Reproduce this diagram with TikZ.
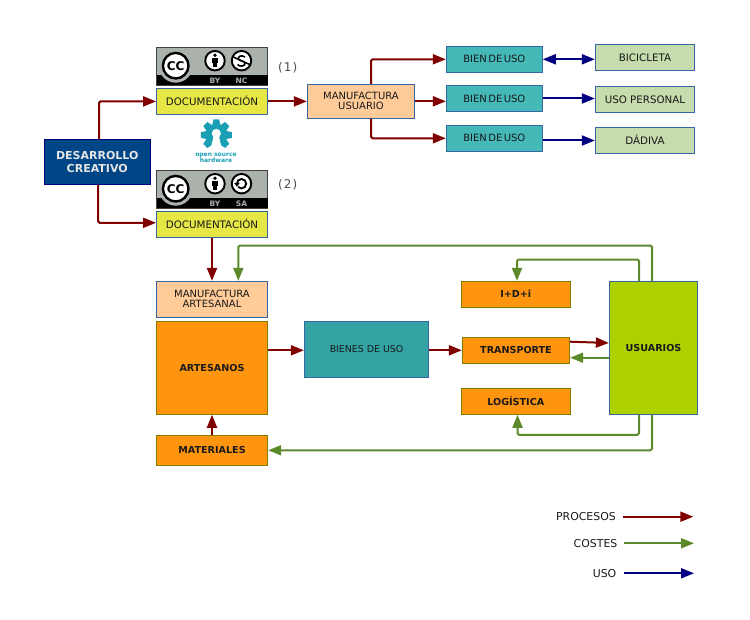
\documentclass[tikz,border=0pt]{standalone}
\usepackage{fontspec}
\setmainfont{DejaVu Sans}
\newfontfamily\bienfont[WordSpace=0.45]{DejaVu Sans}
\usetikzlibrary{arrows.meta}
\definecolor{rojo}{HTML}{800000}
\definecolor{verde}{HTML}{5C8A2A}
\definecolor{azul}{HTML}{000080}
\definecolor{borde}{HTML}{3465A4}
\definecolor{oliva}{HTML}{808000}
\definecolor{gris}{HTML}{AAB2AB}
\definecolor{oshw}{HTML}{1A9FB5}
\definecolor{naranja}{HTML}{FF950E}
\definecolor{amarillo}{HTML}{E6E645}
\definecolor{turquesa}{HTML}{45B8B8}
\definecolor{pasto}{HTML}{C6DCAC}
\definecolor{salmon}{HTML}{FFCC99}
\definecolor{marino}{HTML}{004586}
\definecolor{petroleo}{HTML}{33A3A3}
\definecolor{lima}{HTML}{AECF00}
\tikzset{
 caja/.style={draw=borde,line width=.9pt,inner sep=0pt,align=center,text=black!90,
  font=\fontsize{10}{10}\selectfont},
 negrita/.style={caja,draw=oliva,fill=naranja,font=\fontsize{9.6}{10}\selectfont\bfseries},
 doccaja/.style={caja,fill=amarillo,minimum width=111pt,minimum height=25.6pt,text height=7.5pt,text depth=0pt,font=\fontsize{10.3}{10}\selectfont},
 bien/.style={caja,fill=turquesa,minimum width=96pt,minimum height=26pt,
  font=\bienfont\fontsize{10}{10}\selectfont},
 destino/.style={caja,fill=pasto,minimum width=99.4pt,minimum height=26pt,text height=7.5pt,text depth=0pt,font=\fontsize{10.3}{10}\selectfont},
 manuf/.style={caja,fill=salmon},
 leyenda/.style={inner sep=0pt,anchor=east,text=black!90,font=\fontsize{10.9}{10}\selectfont},
 proceso/.style={rojo,line width=2pt,-{Triangle[length=13pt,width=10pt]},rounded corners=1.5pt},
 coste/.style={verde,line width=2pt,-{Triangle[length=13pt,width=10pt]},rounded corners=1.5pt},
 uso/.style={azul,line width=2pt,-{Triangle[length=13pt,width=10pt]}},
 sello/.style={draw=black,line width=1.9pt,fill=white},
 marca/.style={inner sep=0pt,text=gris,font=\fontsize{7.5}{7.5}\selectfont\bfseries},
 ccbase/.pic={
  \fill[gris,draw=black!75,line width=.9pt] (0,0) rectangle (111,38);
  \fill[black] (0,28) rectangle (111,38);
  \fill[gris] (19.2,18.2) circle (17);
  \node[sello,line width=2.4pt,circle,minimum size=25.6pt,inner sep=0pt,font=\fontsize{12}{12}\selectfont\bfseries] at (19.2,18.2) {CC};
  \node[sello,circle,minimum size=19.5pt] at (58.5,13.2) {};
  \fill[black] (58.5,7.7) circle (1.9);
  \fill[black] (55.4,10.5) rectangle (61.6,16);
  \fill[black] (56.8,15.5) rectangle (60.2,20);
  \node[marca] at (58.5,33) {BY};
 },
 ccnc/.pic={
  \node[sello,circle,minimum size=19.5pt] at (85,13.2) {};
  \draw[black,line width=1.6pt] (88.5,9.5) .. controls (85,7) and (81,9) .. (82,11.5) .. controls (83,14) and (88.5,13) .. (88.5,16) .. controls (88.5,19) and (83,19.5) .. (81,17);
  \draw[black,line width=1.5pt] (76.8,9.5) -- (93.2,17);
  \node[marca] at (85,33) {NC};
 },
 ccsa/.pic={
  \node[sello,circle,minimum size=19.5pt] at (85,13.2) {};
  \draw[black,line width=1.9pt] (80.4,13.2) .. controls (80.4,10.6) and (82.4,8.5) .. (85,8.5) .. controls (87.6,8.5) and (89.7,10.6) .. (89.7,13.2) .. controls (89.7,15.8) and (87.6,17.9) .. (85,17.9) .. controls (83.6,17.9) and (82.4,17.4) .. (81.6,16.5);
  \fill[black] (77.7,12.5) -- (83.2,12.5) -- (80.4,16.3) -- cycle;
  \node[marca] at (85,33) {SA};
 }
}
\begin{document}
\begin{tikzpicture}[x=1pt,y=-1pt]
\useasboundingbox (0,0) rectangle (750,620);
\node[caja,draw=azul,fill=marino,text=black!10,minimum width=106pt,minimum height=45pt,
 font=\fontsize{11}{13}\selectfont\bfseries] (desarrollo) at (97.2,162) {DESARROLLO\\CREATIVO};
\pic at (156.5,47.5) {ccbase};
\pic at (156.5,47.5) {ccnc};
\pic at (156.5,170.5) {ccbase};
\pic at (156.5,170.5) {ccsa};
\node[inner sep=0pt,text=black!70,font=\fontsize{12}{12}\selectfont] (uno) at (287.7,68) {(\kern1pt1\kern1pt)};
\node[inner sep=0pt,text=black!70,font=\fontsize{12}{12}\selectfont] (dos) at (287.7,184.3) {(\kern1pt2\kern1pt)};
\node[doccaja] (doc1) at (212,101.4) {DOCUMENTACIÓN};
\node[doccaja] (doc2) at (212,224.3) {DOCUMENTACIÓN};
\foreach \ang in {90,45,0,-45,135,180,225}
 \fill[oshw,rotate around={\ang:(216.3,135)}] (216.3+8,135-4.4) -- (216.3+15.5,135-2.9) -- (216.3+15.5,135+2.9) -- (216.3+8,135+4.4) -- cycle;
\fill[oshw] (216.3,135) circle (11);
\fill[white] (216.3,133.5) circle (4.6);
\fill[white] (214,135) -- (218.6,135) -- (222,149) -- (210.6,149) -- cycle;
\node[inner sep=0pt,align=center,text=oshw,font=\fontsize{6}{6}\selectfont\bfseries] (oshwtxt) at (216,158.3) {open source\\hardware};
\node[manuf,minimum width=107.4pt,minimum height=34pt] (manuser) at (361,101.3) {MANUFACTURA\\USUARIO};
\node[bien] (bien1) at (494.3,59.3) {BIEN DE USO};
\node[bien] (bien2) at (494.3,98.5) {BIEN DE USO};
\node[bien] (bien3) at (494.3,138.3) {BIEN DE USO};
\node[destino] (bici) at (645,57.3) {BICICLETA};
\node[destino] (usop) at (645,99.3) {USO PERSONAL};
\node[destino] (dadiva) at (645,140.5) {DÁDIVA};
\node[manuf,minimum width=111.4pt,minimum height=36pt] (manart) at (212,299.3) {MANUFACTURA\\ARTESANAL};
\node[negrita,minimum width=111.4pt,minimum height=93pt] (artesanos) at (212,367.8) {ARTESANOS};
\node[negrita,minimum width=111.4pt,minimum height=30pt] (materiales) at (212,450.3) {MATERIALES};
\node[caja,fill=petroleo,minimum width=124.4pt,minimum height=56pt,font=\fontsize{9.4}{10}\selectfont] (bienes) at (366.5,349.3) {BIENES DE USO};
\node[negrita,minimum width=109pt,minimum height=26pt] (idi) at (515.8,294.3) {I+D+i};
\node[negrita,minimum width=107.4pt,minimum height=26pt] (transporte) at (516,350.3) {TRANSPORTE};
\node[negrita,minimum width=109pt,minimum height=26pt] (logistica) at (515.8,401.3) {LOGÍSTICA};
\node[negrita,draw=borde,fill=lima,minimum width=88.4pt,minimum height=133pt] (usuarios) at (653.5,347.8) {USUARIOS};
\node[leyenda] (lproc) at (616,516.7) {PROCESOS};
\node[leyenda] (lcost) at (617.5,543.3) {COSTES};
\node[leyenda] (luso) at (616.5,573.3) {USO};
\coordinate (fproc) at (693.3,516.7);
\coordinate (fcost) at (694,543.3);
\coordinate (fuso) at (694,573.3);
\draw[proceso] ([xshift=1.8]desarrollo.north) |- (doc1.west);
\draw[proceso] ([xshift=1]desarrollo.south) |- ([yshift=1.5]doc2.west);
\draw[proceso] (doc1.east) -- (doc1.east -| manuser.west);
\draw[proceso] ([xshift=10]manuser.north) |- (bien1.west);
\draw[proceso] (manuser.east) -- (manuser.east -| bien2.west);
\draw[proceso] ([xshift=10]manuser.south) |- (bien3.west);
\draw[uso,{Triangle[length=13pt,width=10pt]}-{Triangle[length=13pt,width=10pt]}] (bien1.east) -- (bien1.east -| bici.west);
\draw[uso] (bien2.east) -- (bien2.east -| usop.west);
\draw[uso] (dadiva.west -| bien3.east) -- (dadiva.west);
\draw[proceso] (doc2.south) -- (manart.north);
\draw[proceso] (materiales.north) -- (artesanos.south);
\draw[proceso] ([yshift=-1]bienes.west -| artesanos.east) -- ([yshift=-1]bienes.west);
\draw[proceso] (transporte.west -| bienes.east) -- (transporte.west);
\draw[proceso] ([yshift=8.6]transporte.east) -- ([yshift=4.8]usuarios.west);
\draw[coste] ([yshift=-9.9]usuarios.west) -- ([yshift=-7.4]transporte.east);
\draw[coste] ([xshift=-14.5]usuarios.north) -- ++(0,-21.3) -| ([xshift=1.2]idi.north);
\draw[coste] ([xshift=-1.5]usuarios.north) -- ++(0,-35.3) -| ([xshift=26.3]manart.north);
\draw[coste] ([xshift=-14.5]usuarios.south) -- ++(0,20) -| ([xshift=1.7]logistica.south);
\draw[coste] ([xshift=-1.5]usuarios.south) |- (materiales.east);
\draw[proceso] ([xshift=6.7]lproc.east) -- (fproc);
\draw[coste] ([xshift=6.5]lcost.east) -- (fcost);
\draw[uso] ([xshift=7.5]luso.east) -- (fuso);
\end{tikzpicture}
\end{document}
